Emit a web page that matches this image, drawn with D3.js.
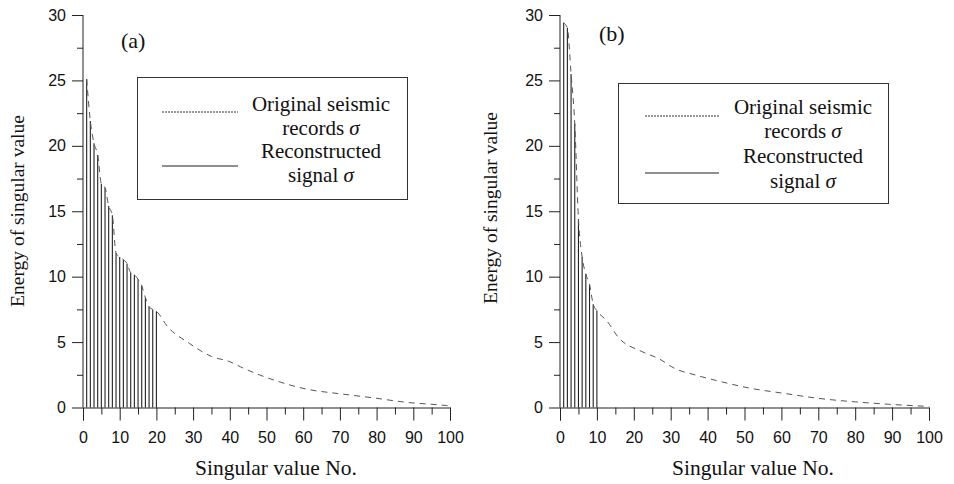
<!DOCTYPE html>
<html>
<head>
<meta charset="utf-8">
<script src="https://cdn.jsdelivr.net/npm/d3@7"></script>
<style>
  html, body { margin: 0; padding: 0; background: #fff; }
  svg { display: block; }
</style>
</head>
<body>
<script>
const origIdxA = [1, 2, 3, 4, 5, 6, 7, 8, 9, 10, 11, 12, 13, 14, 15, 16, 17, 18, 19, 20,
  23, 29, 35, 40, 43, 48, 52, 61, 70, 79, 88, 99, 100];
const origValA = [25.1, 21.9, 20.2, 19.3, 17.1, 16.8, 15.4, 14.7, 11.8, 11.5, 11.3, 11.0, 10.3, 10.15, 9.8, 9.3, 8.4, 7.7, 7.5, 7.35,
  6.2, 4.9, 3.9, 3.5, 3.1, 2.5, 2.1, 1.4, 1.05, 0.74, 0.4, 0.15, 0.12];
const reconA = [25.1, 21.9, 20.2, 19.3, 17.1, 16.8, 15.4, 14.7, 11.8, 11.5, 11.3, 11.0, 10.3, 10.15, 9.8, 9.3, 8.4, 7.7, 7.5, 7.35];

const origIdxB = [1, 2, 3, 4, 5, 6, 7, 8, 9, 10, 12.6, 16, 22, 27, 31, 37, 44, 52, 61, 70, 80, 89, 100];
const origValB = [29.4, 29.0, 25.5, 21.7, 14.4, 11.5, 10.2, 9.4, 7.9, 7.4, 6.65, 5.3, 4.3, 3.7, 3.0, 2.46, 1.95, 1.45, 1.07, 0.7, 0.43, 0.25, 0.08];
const reconB = [29.4, 29.0, 25.5, 21.7, 14.4, 11.5, 10.2, 9.4, 7.9, 7.4];

const xMajor = [0, 10, 20, 30, 40, 50, 60, 70, 80, 90, 100];
const xMinor = [5, 15, 25, 35, 45, 55, 65, 75, 85, 95];
const yMajor = [0, 5, 10, 15, 20, 25, 30];
const yMinor = [2.5, 7.5, 12.5, 17.5, 22.5, 27.5];

const width = 954, height = 484;
const svg = d3.select("body").append("svg")
  .attr("width", width)
  .attr("height", height)
  .attr("viewBox", `0 0 ${width} ${height}`);

const serif = "'Liberation Serif', 'Times New Roman', serif";
const sans = "'Liberation Sans', Arial, sans-serif";

function panel(opt) {
  const x = d3.scaleLinear().domain([0, 100]).range([opt.left, opt.right]);
  const y = d3.scaleLinear().domain([0, 30]).range([407.5, 15]);
  const g = svg.append("g");

  // reconstructed signal: vertical lines
  g.append("g")
    .selectAll("line")
    .data(opt.recon)
    .join("line")
    .attr("x1", (d, i) => x(i + 1))
    .attr("x2", (d, i) => x(i + 1))
    .attr("y1", y(0))
    .attr("y2", d => y(d))
    .attr("stroke", "#222")
    .attr("stroke-width", 1.1);

  // original seismic records: dashed curve
  const pts = opt.idx.map((n, i) => [n, opt.val[i]]);
  g.append("path")
    .attr("d", d3.line().x(d => x(d[0])).y(d => y(d[1])).curve(d3.curveMonotoneX)(pts))
    .attr("fill", "none")
    .attr("stroke", "#555")
    .attr("stroke-width", 1)
    .attr("stroke-dasharray", "6,5");

  // x axis
  const xa = g.append("g").attr("transform", `translate(0,${y(0)})`);
  xa.call(d3.axisBottom(x).tickValues(xMajor).tickSize(13).tickPadding(11).tickFormat(d3.format("d")));
  xa.append("g").call(d3.axisBottom(x).tickValues(xMinor).tickSize(7).tickFormat(""))
    .call(s => s.select(".domain").remove());
  xa.selectAll("text").attr("font-family", sans).attr("font-size", 16).attr("fill", "#111");
  xa.selectAll("path, line").attr("stroke", "#222");

  // y axis
  const ya = g.append("g").attr("transform", `translate(${opt.left},0)`);
  ya.call(d3.axisLeft(y).tickValues(yMajor).tickSize(11).tickPadding(6).tickFormat(d3.format("d")));
  ya.append("g").call(d3.axisLeft(y).tickValues(yMinor).tickSize(6).tickFormat(""))
    .call(s => s.select(".domain").remove());
  ya.selectAll("text").attr("font-family", sans).attr("font-size", 16).attr("fill", "#111");
  ya.selectAll("path, line").attr("stroke", "#222");
  ya.select(".domain").attr("d", `M0,${y(30)}V${y(0)}`);

  // titles
  g.append("text")
    .attr("transform", `translate(${opt.yTitleX},${opt.yTitleY}) rotate(-90)`)
    .attr("text-anchor", "middle")
    .attr("font-family", serif).attr("font-size", 19.5).attr("fill", "#111")
    .text("Energy of singular value");
  g.append("text")
    .attr("x", opt.left + 112)
    .attr("y", 475)
    .attr("font-family", serif).attr("font-size", 21.5).attr("fill", "#111")
    .text("Singular value No.");
  g.append("text")
    .attr("x", opt.tagX).attr("y", opt.tagY)
    .attr("font-family", serif).attr("font-size", 22).attr("fill", "#111")
    .text(opt.tag);

  // legend
  const L = opt.legend;
  g.append("rect")
    .attr("x", L.x0 + 0.5).attr("y", L.y0 + 0.5)
    .attr("width", L.x1 - L.x0).attr("height", L.y1 - L.y0)
    .attr("fill", "#fff").attr("stroke", "#333").attr("stroke-width", 1);
  g.append("line")
    .attr("x1", L.lx0).attr("x2", L.lx1).attr("y1", L.dotY).attr("y2", L.dotY)
    .attr("stroke", "#333").attr("stroke-width", 1).attr("stroke-dasharray", "2,1");
  g.append("line")
    .attr("x1", L.lx0).attr("x2", L.lx1).attr("y1", L.solidY).attr("y2", L.solidY)
    .attr("stroke", "#222").attr("stroke-width", 1.2);
  const lines = [["Original seismic", false], ["records ", true], ["Reconstructed", false], ["signal ", true]];
  lines.forEach(([t, sig], i) => {
    const tx = g.append("text")
      .attr("x", L.tx).attr("y", L.ty[i])
      .attr("text-anchor", "middle")
      .attr("font-family", serif).attr("font-size", 21).attr("fill", "#111")
      .text(t);
    if (sig) tx.append("tspan").attr("font-style", "italic").text("σ");
  });
}

panel({
  left: 83, right: 450,
  recon: reconA, idx: origIdxA, val: origValA,
  tag: "(a)", tagX: 121, tagY: 48,
  yTitleX: 24, yTitleY: 211,
  legend: { x0: 137, y0: 77, x1: 407, y1: 199, lx0: 162, lx1: 238, dotY: 112, solidY: 166,
    tx: 321, ty: [111, 135, 158, 182] }
});

panel({
  left: 560, right: 929,
  recon: reconB, idx: origIdxB, val: origValB,
  tag: "(b)", tagX: 599, tagY: 41,
  yTitleX: 497, yTitleY: 208,
  legend: { x0: 618, y0: 83, x1: 888, y1: 203, lx0: 645, lx1: 719, dotY: 116, solidY: 173,
    tx: 803, ty: [114, 138, 163, 188] }
});
</script>
</body>
</html>
